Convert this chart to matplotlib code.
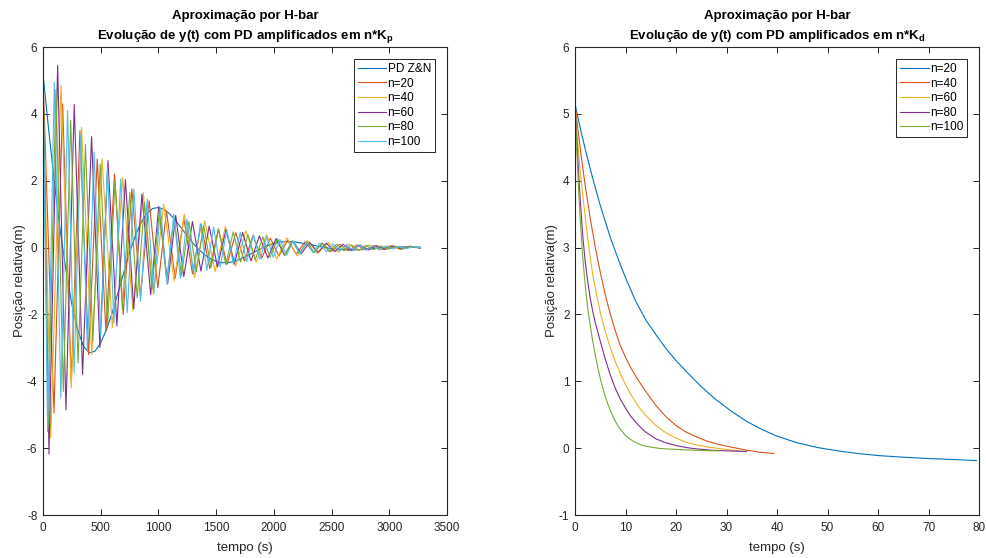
import matplotlib
matplotlib.use('Agg')
import matplotlib.pyplot as plt

plt.rcParams['font.family'] = ['Liberation Sans', 'DejaVu Sans']
plt.rcParams['mathtext.fontset'] = 'custom'
plt.rcParams['mathtext.bf'] = 'Liberation Sans:bold'
plt.rcParams['mathtext.rm'] = 'Liberation Sans:bold'
plt.rcParams['mathtext.default'] = 'bf'
plt.rcParams['axes.unicode_minus'] = False

# MATLAB default colour order
cores = ['#0072BD', '#D95319', '#EDB120', '#7E2F8E', '#77AC30', '#4DBEEE']

# ---- left panel: n*Kp (extrema) ----
t_zn = [0, 50, 100, 150, 200, 250, 300, 350, 400, 450, 500, 550, 600, 650, 700, 750, 800, 850,
        900, 950, 1000, 1050, 1100, 1150, 1200, 1250, 1300, 1350, 1400, 1450, 1500, 1550, 1600,
        1650, 1700, 1750, 1800, 1850, 1900, 1950, 2000, 2050, 2100, 2150, 2200, 2300, 2400, 2500,
        2600, 2700, 2800, 2900, 3000, 3100, 3200, 3270]
y_zn = [5.2, 3.5, 1.9, 0.5, -0.7, -1.7, -2.45, -2.95, -3.15, -3.1, -2.85, -2.45, -1.95, -1.35,
        -0.75, -0.15, 0.35, 0.75, 1.02, 1.17, 1.2, 1.14, 1.0, 0.8, 0.58, 0.35, 0.13, -0.06, -0.21,
        -0.33, -0.41, -0.45, -0.45, -0.42, -0.36, -0.28, -0.19, -0.1, -0.01, 0.06, 0.12, 0.16,
        0.18, 0.18, 0.16, 0.1, 0.03, -0.03, -0.06, -0.07, -0.05, -0.02, 0.01, 0.02, 0.02, 0.01]

t_kp20 = [0, 95, 170, 245, 320, 395, 470, 545, 620, 695, 770, 845, 920, 995, 1070, 1145, 1220,
          1295, 1370, 1445, 1520, 1595, 1670, 1745, 1820, 1895, 1970, 2045, 2120, 2195, 2270,
          2345, 2420, 2495, 2570, 2645, 2720, 2795, 2870, 2945, 3020, 3095, 3170, 3270]
y_kp20 = [5.15, -4.95, 4.3, -4.0, 3.5, -3.2, 2.65, -2.5, 2.2, -2.0, 1.75, -1.45, 1.4, -1.2,
          1.1, -0.92, 0.88, -0.78, 0.7, -0.63, 0.56, -0.5, 0.45, -0.4, 0.36, -0.32, 0.28, -0.25,
          0.22, -0.19, 0.17, -0.15, 0.13, -0.12, 0.1, -0.09, 0.08, -0.07, 0.06, -0.055, 0.05,
          -0.04, 0.035, 0.0]

t_kp40 = [0, 67, 156, 245, 334, 423, 512, 601, 690, 779, 868, 957, 1046, 1135, 1224, 1313,
          1402, 1491, 1580, 1669, 1758, 1847, 1936, 2025, 2114, 2203, 2292, 2381, 2470, 2559,
          2648, 2737, 2826, 2915, 3004, 3093, 3182, 3270]
y_kp40 = [5.15, -5.7, 4.85, -4.2, 3.6, -3.2, 2.66, -2.4, 2.1, -1.9, 1.65, -1.4, 1.3, -1.0,
          1.0, -0.9, 0.8, -0.72, 0.63, -0.56, 0.5, -0.44, 0.39, -0.34, 0.29, -0.25, 0.21, -0.18,
          0.15, -0.13, 0.11, -0.09, 0.08, -0.07, 0.06, -0.05, 0.04, 0.0]

t_kp60 = [0, 52, 127, 199, 271, 343, 421, 493, 563, 640, 714, 786, 857, 933, 1003, 1080, 1150,
          1220, 1295, 1368, 1440, 1512, 1585, 1658, 1730, 1802, 1875, 1948, 2020, 2092, 2165,
          2238, 2310, 2382, 2455, 2528, 2600, 2672, 2745, 2818, 2890, 2962, 3035, 3108, 3180, 3270]
y_kp60 = [5.15, -6.17, 5.45, -4.85, 4.28, -3.8, 3.32, -2.99, 2.6, -2.34, 2.03, -1.83, 1.6,
          -1.41, 1.23, -1.08, 0.96, -0.87, 0.78, -0.7, 0.64, -0.58, 0.54, -0.49, 0.45, -0.4,
          0.35, -0.31, 0.27, -0.23, 0.2, -0.18, 0.16, -0.14, 0.13, -0.12, 0.1, -0.09, 0.08,
          -0.07, 0.06, -0.055, 0.05, -0.045, 0.04, -0.02]

t_kp80 = [0, 45, 112, 176, 240, 304, 368, 432, 496, 560, 624, 688, 752, 816, 880, 944, 1008,
          1072, 1136, 1200, 1264, 1328, 1392, 1456, 1520, 1584, 1648, 1712, 1776, 1840, 1904,
          1968, 2032, 2096, 2160, 2224, 2288, 2352, 2416, 2480, 2544, 2608, 2672, 2736, 2800,
          2864, 2928, 2992, 3056, 3120, 3184, 3270]
y_kp80 = [5.15, -5.4, 4.73, -4.3, 3.8, -3.45, 3.08, -2.8, 2.5, -2.3, 2.0, -1.85, 1.65, -1.5,
          1.35, -1.25, 1.1, -1.0, 0.92, -0.85, 0.78, -0.72, 0.66, -0.6, 0.56, -0.51, 0.47, -0.43,
          0.39, -0.36, 0.32, -0.29, 0.26, -0.23, 0.2, -0.18, 0.16, -0.15, 0.13, -0.12, 0.1,
          -0.09, 0.08, -0.075, 0.065, -0.06, 0.05, -0.045, 0.04, -0.035, 0.03, -0.01]

t_kp100 = [0, 40, 98, 155, 213, 270, 328, 385, 443, 500, 558, 615, 673, 730, 788, 845, 903,
           960, 1018, 1075, 1133, 1190, 1248, 1305, 1363, 1420, 1478, 1535, 1593, 1650, 1708,
           1765, 1823, 1880, 1938, 1995, 2053, 2110, 2168, 2225, 2283, 2340, 2398, 2455, 2513,
           2570, 2628, 2685, 2743, 2800, 2858, 2915, 2973, 3030, 3088, 3145, 3203, 3270]
y_kp100 = [5.2, -5.5, 4.95, -4.5, 4.1, -3.75, 3.38, -3.1, 2.85, -2.65, 2.4, -2.25, 2.05, -1.95,
           1.75, -1.6, 1.45, -1.35, 1.2, -1.1, 1.0, -0.92, 0.85, -0.8, 0.72, -0.68, 0.62, -0.58,
           0.53, -0.5, 0.45, -0.42, 0.38, -0.35, 0.31, -0.29, 0.25, -0.23, 0.2, -0.19, 0.17,
           -0.15, 0.14, -0.13, 0.11, -0.1, 0.09, -0.085, 0.075, -0.07, 0.06, -0.055, 0.05,
           -0.045, 0.04, -0.035, 0.03, 0.0]

rot_kp = ['PD Z&N', 'n=20', 'n=40', 'n=60', 'n=80', 'n=100']

# ---- right panel: n*Kd ----
t_kd20 = [0, 1, 2, 3, 4, 5, 6, 7, 8, 9, 10, 12, 14, 16, 18, 20, 22, 25, 28, 31, 34, 37, 40,
          44, 48, 52, 56, 60, 65, 70, 75, 79.5]
y_kd20 = [5.15, 4.8, 4.48, 4.18, 3.9, 3.63, 3.39, 3.15, 2.94, 2.74, 2.55, 2.2, 1.92, 1.7,
          1.49, 1.31, 1.15, 0.92, 0.72, 0.55, 0.4, 0.28, 0.18, 0.08, 0.01, -0.04, -0.08, -0.11,
          -0.135, -0.155, -0.17, -0.185]
t_kd40 = [0, 0.5, 1, 1.5, 2, 3, 4, 5, 6, 7, 8, 9, 10, 11, 12, 13, 14, 16, 18, 20, 22, 24, 26,
          28, 30, 32, 34, 36.5, 39.4]
y_kd40 = [5.15, 4.82, 4.5, 4.21, 3.94, 3.44, 3.01, 2.63, 2.29, 2.0, 1.75, 1.53, 1.36, 1.21,
          1.08, 0.96, 0.85, 0.64, 0.47, 0.34, 0.24, 0.17, 0.11, 0.065, 0.03, 0.0, -0.03, -0.06,
          -0.08]
t_kd60 = [0, 0.5, 1, 1.65, 2, 2.5, 3, 3.5, 4, 5, 6, 7, 8, 9, 10, 11, 12, 13, 14, 16, 18, 20,
          22, 24, 26, 28, 30, 33.7]
y_kd60 = [5.15, 4.6, 4.15, 3.7, 3.47, 3.15, 2.85, 2.6, 2.4, 2.03, 1.74, 1.5, 1.29, 1.11, 0.95,
          0.81, 0.69, 0.58, 0.49, 0.34, 0.23, 0.15, 0.09, 0.05, 0.02, 0.0, -0.02, -0.05]
t_kd80 = [0, 0.25, 0.5, 0.75, 1, 1.5, 2, 2.5, 3, 3.5, 4, 5, 6, 7, 8, 9, 10, 11, 12, 13, 14, 16,
          18, 20, 22, 24, 27, 30, 34]
y_kd80 = [5.15, 4.75, 4.4, 4.05, 3.75, 3.2, 2.8, 2.5, 2.25, 2.05, 1.88, 1.6, 1.33, 1.09, 0.89,
          0.73, 0.6, 0.48, 0.39, 0.31, 0.24, 0.14, 0.08, 0.04, 0.01, -0.01, -0.03, -0.04, -0.05]
t_kd100 = [0, 0.2, 0.4, 0.66, 1, 1.5, 2, 2.5, 3, 3.5, 4, 4.5, 5, 5.5, 6, 6.5, 7, 7.6, 8.2, 9,
           10, 11, 12, 13, 14, 15.5, 17, 19, 22, 25, 28.5]
y_kd100 = [5.15, 4.75, 4.38, 3.95, 3.45, 2.88, 2.45, 2.1, 1.84, 1.6, 1.4, 1.21, 1.04, 0.9,
           0.77, 0.66, 0.56, 0.46, 0.37, 0.28, 0.19, 0.13, 0.085, 0.05, 0.03, 0.01, -0.005,
           -0.015, -0.025, -0.035, -0.04]

rot_kd = ['n=20', 'n=40', 'n=60', 'n=80', 'n=100']

fig = plt.figure(figsize=(9.86, 5.58), dpi=100)
ax1 = fig.add_axes([0.0436, 0.077, 0.4097, 0.8387])
ax2 = fig.add_axes([0.5832, 0.077, 0.4097, 0.8387])


def estilo(ax):
    for s in ax.spines.values():
        s.set_color('#262626')
        s.set_linewidth(0.8)
    ax.tick_params(direction='in', top=True, right=True, length=4, width=0.7,
                   colors='#262626', labelsize=8.5)
    ax.tick_params(axis='x', pad=5)
    ax.tick_params(axis='y', pad=4)


def legenda(ax, bpad):
    leg = ax.legend(loc='upper right', fontsize=8.5, frameon=True, fancybox=False,
                    edgecolor='#262626', framealpha=1, handlelength=2.4, borderpad=0.35,
                    labelspacing=0.22, handletextpad=0.1, borderaxespad=bpad)
    leg.get_frame().set_linewidth(0.7)


series_kp = [(t_zn, y_zn), (t_kp20, y_kp20), (t_kp40, y_kp40), (t_kp60, y_kp60),
             (t_kp80, y_kp80), (t_kp100, y_kp100)]
for (t, y), c, r in zip(series_kp, cores, rot_kp):
    ax1.plot(t, y, color=c, lw=0.8, label=r)
ax1.set_xlim(0, 3500)
ax1.set_ylim(-8, 6)
ax1.set_xticks(range(0, 3501, 500))
ax1.set_yticks(range(-8, 7, 2))
estilo(ax1)
ax1.set_xlabel('tempo (s)', fontsize=9.5, color='#262626', labelpad=6)
ax1.set_ylabel('Posição relativa(m)', fontsize=9.5, color='#262626', labelpad=1)
ax1.set_title('Aproximação por H-bar\nEvolução de y(t) com PD amplificados em n*K$_p$',
              fontsize=9.5, fontweight='bold', pad=6, linespacing=1.5)
legenda(ax1, 1.0)

series_kd = [(t_kd20, y_kd20), (t_kd40, y_kd40), (t_kd60, y_kd60), (t_kd80, y_kd80),
             (t_kd100, y_kd100)]
for (t, y), c, r in zip(series_kd, cores, rot_kd):
    ax2.plot(t, y, color=c, lw=0.8, label=r)
ax2.set_xlim(0, 80)
ax2.set_ylim(-1, 6)
ax2.set_xticks(range(0, 81, 10))
ax2.set_yticks(range(-1, 7, 1))
estilo(ax2)
ax2.set_xlabel('tempo (s)', fontsize=9.5, color='#262626', labelpad=6)
ax2.set_ylabel('Posição relativa(m)', fontsize=9.5, color='#262626', labelpad=1)
ax2.set_title('Aproximação por H-bar\nEvolução de y(t) com PD amplificados em n*K$_d$',
              fontsize=9.5, fontweight='bold', pad=6, linespacing=1.5)
legenda(ax2, 1.0)

fig.savefig('out.png', dpi=100, facecolor='white')
